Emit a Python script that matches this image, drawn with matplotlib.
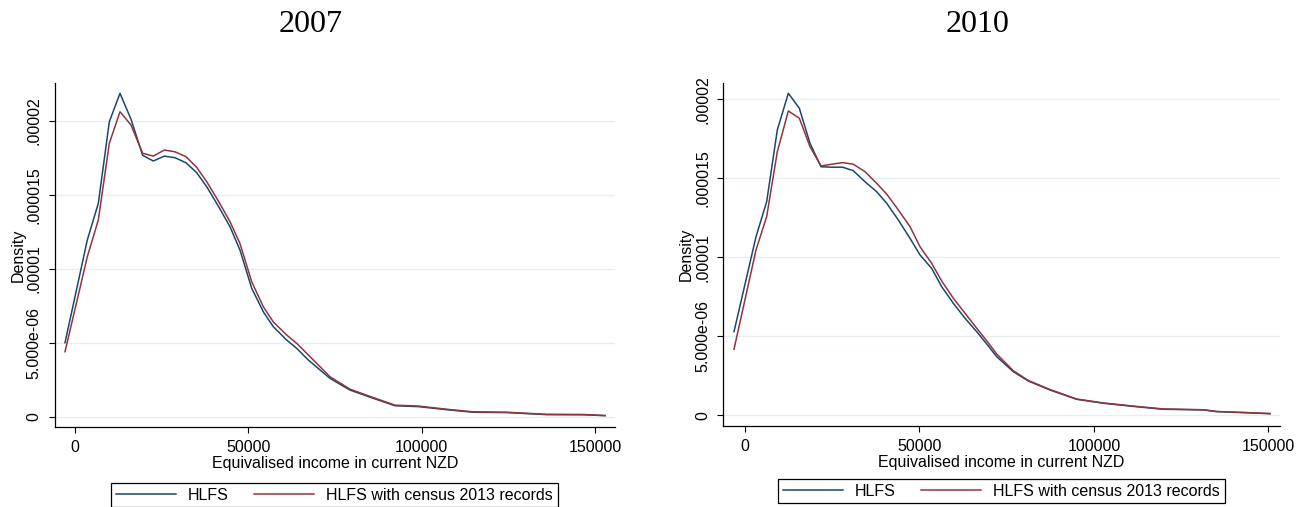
import matplotlib
matplotlib.use("Agg")
import matplotlib.pyplot as plt
import numpy as np

plt.rcParams['font.family'] = ['Liberation Sans', 'DejaVu Sans']

# kernel density curves (density in units of 1e-6)
x_2007 = [-2885, 3550, 6730, 9900, 12980, 16160, 19520, 22600, 25770, 28850,
          32030, 35110, 38000, 41300, 44720, 47600, 50980, 54330, 57220, 61070,
          63960, 67320, 70690, 73570, 79340, 85600, 92320, 99050, 108200, 114900,
          124550, 136100, 146650, 152900]
hlfs_2007 = [5.0, 11.94, 14.42, 19.93, 21.85, 20.1, 17.66, 17.28, 17.61, 17.5,
             17.16, 16.49, 15.54, 14.25, 12.84, 11.26, 8.68, 7.09, 6.08, 5.18,
             4.62, 3.83, 3.16, 2.59, 1.80, 1.28, 0.74, 0.68, 0.45, 0.30,
             0.28, 0.14, 0.13, 0.07]
census_2007 = [4.39, 10.81, 13.29, 18.47, 20.61, 19.71, 17.8, 17.61, 18.02, 17.9,
               17.57, 16.85, 15.88, 14.6, 13.18, 11.7, 9.12, 7.43, 6.4, 5.52,
               4.96, 4.17, 3.38, 2.70, 1.86, 1.33, 0.78, 0.72, 0.48, 0.33,
               0.30, 0.16, 0.15, 0.08]

x_2010 = [-3152, 3152, 6210, 9260, 12420, 15570, 18620, 21780, 24840, 27990,
          31030, 34380, 37730, 40600, 43930, 47280, 50140, 53480, 56360, 59690,
          63040, 66390, 69500, 72110, 76880, 81180, 87390, 95040, 102670, 112230,
          119860, 131320, 135150, 143750, 150430]
hlfs_2010 = [5.29, 11.30, 13.52, 18.06, 20.38, 19.43, 17.22, 15.73, 15.70, 15.70,
             15.48, 14.78, 14.15, 13.42, 12.36, 11.20, 10.15, 9.30, 8.14, 7.09,
             6.14, 5.29, 4.45, 3.71, 2.76, 2.17, 1.60, 1.01, 0.76, 0.54,
             0.38, 0.34, 0.23, 0.16, 0.10]
census_2010 = [4.18, 10.46, 12.57, 16.68, 19.26, 18.80, 17.0, 15.78, 15.89, 15.99,
               15.89, 15.42, 14.68, 14.0, 13.0, 11.94, 10.67, 9.62, 8.50, 7.41,
               6.46, 5.51, 4.65, 3.88, 2.82, 2.20, 1.63, 1.03, 0.78, 0.56,
               0.40, 0.35, 0.24, 0.17, 0.11]

y_ticks = [0, 5e-6, 1e-5, 1.5e-5, 2e-5]
y_labels = ['0', '5.000e-06', '.00001', '.000015', '.00002']
x_ticks = [0, 50000, 100000, 150000]
series_names = ['HLFS', 'HLFS with census 2013 records']

navy = '#1a476f'
maroon = '#90353b'
W, H = 1312, 507
fs = 11.5

fig = plt.figure(figsize=(W / 100, H / 100), dpi=100)


def panel(rect, xs, a, b, title, title_x, xlim, ylim):
    ax = fig.add_axes(rect)
    ax.plot(xs, np.array(a) * 1e-6, color=navy, lw=1.1, label=series_names[0])
    ax.plot(xs, np.array(b) * 1e-6, color=maroon, lw=1.1, label=series_names[1])
    ax.set_xlim(xlim)
    ax.set_ylim(ylim)
    ax.set_yticks(y_ticks)
    ax.set_yticklabels(y_labels, rotation=90, va='center')
    ax.set_xticks(x_ticks)
    ax.set_xticklabels([str(t) for t in x_ticks])
    ax.tick_params(labelsize=fs, length=4.5, width=0.8, pad=5, color='black')
    ax.grid(axis='y', color='#e6eef0', lw=1)
    ax.set_axisbelow(True)
    for s in ['top', 'right']:
        ax.spines[s].set_visible(False)
    for s in ['left', 'bottom']:
        ax.spines[s].set_linewidth(0.9)
    ax.set_ylabel('Density', fontsize=fs, labelpad=1)
    ax.set_xlabel('Equivalised income in current NZD', fontsize=fs, labelpad=1)
    fig.text(title_x / W, 1 - 24 / H, title, family='Liberation Serif',
             fontsize=23, ha='center', va='center')
    return ax


ax1 = panel([55 / W, 1 - 426.7 / H, 560 / W, 343.7 / H], x_2007, hlfs_2007, census_2007,
            '2007', 311, (-5770, 155800), (-6.76e-7, 2.255e-5))
ax2 = panel([723.3 / W, 1 - 425.7 / H, 556.7 / W, 342.7 / H], x_2010, hlfs_2010, census_2010,
            '2010', 978, (-6218, 153300), (-6.6e-7, 2.103e-5))

for ax, xc, yc in [(ax1, 334.5, 495), (ax2, 1001.5, 491)]:
    leg = ax.legend(loc='center', bbox_to_anchor=(xc / W, 1 - yc / H),
                    bbox_transform=fig.transFigure, ncol=2,
                    fontsize=fs, handlelength=3.75, handletextpad=0.75,
                    columnspacing=1.6, borderaxespad=0, borderpad=0.3,
                    fancybox=False, framealpha=1)
    leg.get_frame().set_edgecolor('black')
    leg.get_frame().set_linewidth(0.9)

fig.savefig('out.png', dpi=100)
